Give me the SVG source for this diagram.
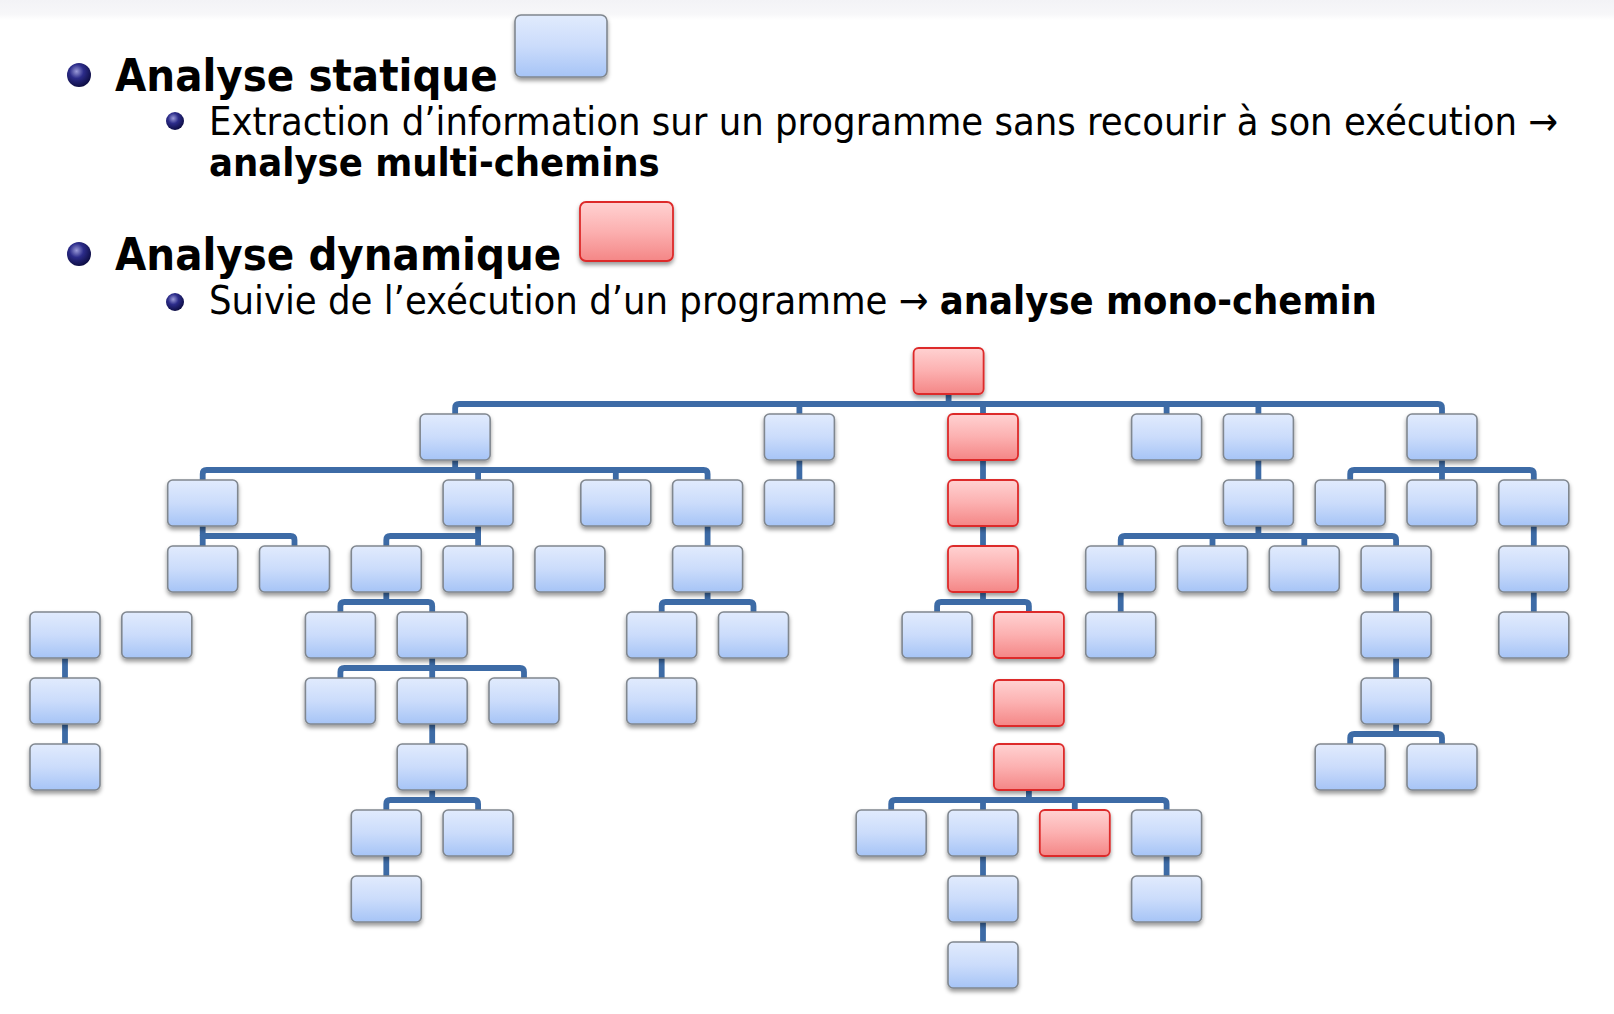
<svg xmlns="http://www.w3.org/2000/svg" width="1614" height="1014" viewBox="0 0 1614 1014">
<defs>
<linearGradient id="gBlue" x1="0" y1="0" x2="0" y2="1">
<stop offset="0" stop-color="#e1ebfd"/><stop offset="0.5" stop-color="#cbdcfb"/><stop offset="1" stop-color="#a6c4f6"/>
</linearGradient>
<linearGradient id="gRed" x1="0" y1="0" x2="0" y2="1">
<stop offset="0" stop-color="#ffd2d2"/><stop offset="0.5" stop-color="#fcb0b0"/><stop offset="1" stop-color="#f48686"/>
</linearGradient>
<linearGradient id="gTop" x1="0" y1="0" x2="0" y2="1">
<stop offset="0" stop-color="#f3f3f6"/><stop offset="0.7" stop-color="#f7f7f9"/><stop offset="1" stop-color="#ffffff"/>
</linearGradient>
<radialGradient id="gBullet" cx="0.4" cy="0.35" r="0.65">
<stop offset="0" stop-color="#9a9ad8"/><stop offset="0.45" stop-color="#2c2c8a"/><stop offset="1" stop-color="#0e0e45"/>
</radialGradient>
<filter id="sh" x="-20%" y="-20%" width="140%" height="160%">
<feDropShadow dx="0" dy="3" stdDeviation="2" flood-color="#000" flood-opacity="0.4"/>
</filter>
<style>
.b rect{fill:url(#gBlue);stroke:#80878f;stroke-width:1.6;filter:url(#sh)}
.r rect{fill:url(#gRed);stroke:#dd2a2a;stroke-width:1.8;filter:url(#sh)}
.n{fill:url(#gBlue);stroke:#80878f;stroke-width:1.6;filter:url(#sh)}
.nr{fill:url(#gRed);stroke:#dd2a2a;stroke-width:1.8;filter:url(#sh)}
.c path{fill:none;stroke:#3d6ba6;stroke-width:5.8;stroke-linejoin:round;stroke-linecap:butt}
.t{font-family:"DejaVu Sans Condensed","DejaVu Sans",sans-serif;fill:#000}
.h{font-size:45px;font-weight:bold}
.s{font-size:39.5px}
.bd{font-weight:bold}
</style>
</defs>
<rect x="0" y="0" width="1614" height="1014" fill="#ffffff"/>
<rect x="0" y="0" width="1614" height="20" fill="url(#gTop)"/>

<g id="text">
<circle cx="79" cy="75" r="12" fill="url(#gBullet)"/>
<text class="t h" x="115" y="91">Analyse statique</text>
<rect id="legend-static" class="n" x="515" y="15" width="92" height="62" rx="6"/>
<circle cx="175" cy="121" r="9" fill="url(#gBullet)"/>
<text class="t s" x="209" y="135">Extraction d’information sur un programme sans recourir à son exécution →</text>
<text class="t s bd" x="209" y="176">analyse multi-chemins</text>
<circle cx="79" cy="254" r="12" fill="url(#gBullet)"/>
<text class="t h" x="115" y="270">Analyse dynamique</text>
<rect id="legend-dynamic" class="nr" x="580" y="202" width="93" height="59" rx="6"/>
<circle cx="175" cy="302" r="9" fill="url(#gBullet)"/>
<text class="t s" x="209" y="314">Suivie de l’exécution d’un programme → <tspan class="bd">analyse mono-chemin</tspan></text>
</g>

<g id="connectors" class="c">
<path d="M948.6 390 V404"/>
<path d="M455.15 418 V408 Q455.15 404 459.15 404 H1438 Q1442 404 1442 408 V418"/>
<path d="M799.4 404 V418 M983 404 V418 M1166.6 404 V418 M1258.4 404 V418"/>
<path d="M455.15 456 V470"/>
<path d="M202.7 484 V474 Q202.7 470 206.7 470 H703.6 Q707.6 470 707.6 474 V484"/>
<path d="M478.1 470 V484 M615.8 470 V484"/>
<path d="M799.4 456 V484"/>
<path d="M983 456 V484"/>
<path d="M1258.4 456 V484"/>
<path d="M1442 456 V470"/>
<path d="M1350.2 484 V474 Q1350.2 470 1354.2 470 H1529.8 Q1533.8 470 1533.8 474 V484"/>
<path d="M1442 470 V484"/>
<path d="M202.7 522 V536"/>
<path d="M202.7 550 V536 H290.5 Q294.5 536 294.5 540 V550"/>
<path d="M478.1 522 V550"/>
<path d="M386.3 550 V540 Q386.3 536 390.3 536 H478.1"/>
<path d="M707.6 522 V550"/>
<path d="M983 522 V550"/>
<path d="M1258.4 522 V536"/>
<path d="M1120.7 550 V540 Q1120.7 536 1124.7 536 H1392.1 Q1396.1 536 1396.1 540 V550"/>
<path d="M1212.5 536 V550 M1304.3 536 V550"/>
<path d="M1533.8 522 V550"/>
<path d="M386.3 588 V602"/>
<path d="M340.4 616 V606 Q340.4 602 344.4 602 H428.2 Q432.2 602 432.2 606 V616"/>
<path d="M707.6 588 V602"/>
<path d="M661.7 616 V606 Q661.7 602 665.7 602 H749.5 Q753.5 602 753.5 606 V616"/>
<path d="M983 588 V602"/>
<path d="M937.1 616 V606 Q937.1 602 941.1 602 H1024.9 Q1028.9 602 1028.9 606 V616"/>
<path d="M1120.7 588 V616"/>
<path d="M1396.1 588 V616"/>
<path d="M1533.8 588 V616"/>
<path d="M65 654 V682"/>
<path d="M432.2 654 V668"/>
<path d="M340.4 682 V672 Q340.4 668 344.4 668 H520 Q524 668 524 672 V682"/>
<path d="M432.2 668 V682"/>
<path d="M661.7 654 V682"/>
<path d="M1396.1 654 V682"/>
<path d="M65 720 V748"/>
<path d="M432.2 720 V748"/>
<path d="M1396.1 720 V734"/>
<path d="M1350.2 748 V738 Q1350.2 734 1354.2 734 H1438 Q1442 734 1442 738 V748"/>
<path d="M432.2 786 V800"/>
<path d="M386.3 814 V804 Q386.3 800 390.3 800 H474.1 Q478.1 800 478.1 804 V814"/>
<path d="M1028.9 786 V800"/>
<path d="M891.2 814 V804 Q891.2 800 895.2 800 H1162.6 Q1166.6 800 1166.6 804 V814"/>
<path d="M983 800 V814 M1074.8 800 V814"/>
<path d="M386.3 852 V880"/>
<path d="M983 852 V880"/>
<path d="M1166.6 852 V880"/>
<path d="M983 918 V946"/>
</g>

<g id="nodes">
<g id="n0" class="r"><rect x="913.6" y="348" width="70" height="46" rx="5"/></g>
<g id="n1a" class="b"><rect x="420.15" y="414" width="70" height="46" rx="5"/></g>
<g id="n1b" class="b"><rect x="764.4" y="414" width="70" height="46" rx="5"/></g>
<g id="n1c" class="r"><rect x="948" y="414" width="70" height="46" rx="5"/></g>
<g id="n1d" class="b"><rect x="1131.6" y="414" width="70" height="46" rx="5"/></g>
<g id="n1e" class="b"><rect x="1223.4" y="414" width="70" height="46" rx="5"/></g>
<g id="n1f" class="b"><rect x="1407" y="414" width="70" height="46" rx="5"/></g>
<g id="n2a" class="b"><rect x="167.7" y="480" width="70" height="46" rx="5"/></g>
<g id="n2b" class="b"><rect x="443.1" y="480" width="70" height="46" rx="5"/></g>
<g id="n2c" class="b"><rect x="580.8" y="480" width="70" height="46" rx="5"/></g>
<g id="n2d" class="b"><rect x="672.6" y="480" width="70" height="46" rx="5"/></g>
<g id="n2e" class="b"><rect x="764.4" y="480" width="70" height="46" rx="5"/></g>
<g id="n2f" class="r"><rect x="948" y="480" width="70" height="46" rx="5"/></g>
<g id="n2g" class="b"><rect x="1223.4" y="480" width="70" height="46" rx="5"/></g>
<g id="n2h" class="b"><rect x="1315.2" y="480" width="70" height="46" rx="5"/></g>
<g id="n2i" class="b"><rect x="1407" y="480" width="70" height="46" rx="5"/></g>
<g id="n2j" class="b"><rect x="1498.8" y="480" width="70" height="46" rx="5"/></g>
<g id="n3a" class="b"><rect x="167.7" y="546" width="70" height="46" rx="5"/></g>
<g id="n3b" class="b"><rect x="259.5" y="546" width="70" height="46" rx="5"/></g>
<g id="n3c" class="b"><rect x="351.3" y="546" width="70" height="46" rx="5"/></g>
<g id="n3d" class="b"><rect x="443.1" y="546" width="70" height="46" rx="5"/></g>
<g id="n3e" class="b"><rect x="534.9" y="546" width="70" height="46" rx="5"/></g>
<g id="n3f" class="b"><rect x="672.6" y="546" width="70" height="46" rx="5"/></g>
<g id="n3g" class="r"><rect x="948" y="546" width="70" height="46" rx="5"/></g>
<g id="n3h" class="b"><rect x="1085.7" y="546" width="70" height="46" rx="5"/></g>
<g id="n3i" class="b"><rect x="1177.5" y="546" width="70" height="46" rx="5"/></g>
<g id="n3j" class="b"><rect x="1269.3" y="546" width="70" height="46" rx="5"/></g>
<g id="n3k" class="b"><rect x="1361.1" y="546" width="70" height="46" rx="5"/></g>
<g id="n3l" class="b"><rect x="1498.8" y="546" width="70" height="46" rx="5"/></g>
<g id="n4a" class="b"><rect x="30" y="612" width="70" height="46" rx="5"/></g>
<g id="n4b" class="b"><rect x="121.8" y="612" width="70" height="46" rx="5"/></g>
<g id="n4c" class="b"><rect x="305.4" y="612" width="70" height="46" rx="5"/></g>
<g id="n4d" class="b"><rect x="397.2" y="612" width="70" height="46" rx="5"/></g>
<g id="n4e" class="b"><rect x="626.7" y="612" width="70" height="46" rx="5"/></g>
<g id="n4f" class="b"><rect x="718.5" y="612" width="70" height="46" rx="5"/></g>
<g id="n4g" class="b"><rect x="902.1" y="612" width="70" height="46" rx="5"/></g>
<g id="n4h" class="r"><rect x="993.9" y="612" width="70" height="46" rx="5"/></g>
<g id="n4i" class="b"><rect x="1085.7" y="612" width="70" height="46" rx="5"/></g>
<g id="n4j" class="b"><rect x="1361.1" y="612" width="70" height="46" rx="5"/></g>
<g id="n4k" class="b"><rect x="1498.8" y="612" width="70" height="46" rx="5"/></g>
<g id="n5a" class="b"><rect x="30" y="678" width="70" height="46" rx="5"/></g>
<g id="n5b" class="b"><rect x="305.4" y="678" width="70" height="46" rx="5"/></g>
<g id="n5c" class="b"><rect x="397.2" y="678" width="70" height="46" rx="5"/></g>
<g id="n5d" class="b"><rect x="489" y="678" width="70" height="46" rx="5"/></g>
<g id="n5e" class="b"><rect x="626.7" y="678" width="70" height="46" rx="5"/></g>
<g id="n5f" class="r"><rect x="993.9" y="680" width="70" height="46" rx="5"/></g>
<g id="n5g" class="b"><rect x="1361.1" y="678" width="70" height="46" rx="5"/></g>
<g id="n6a" class="b"><rect x="30" y="744" width="70" height="46" rx="5"/></g>
<g id="n6b" class="b"><rect x="397.2" y="744" width="70" height="46" rx="5"/></g>
<g id="n6c" class="r"><rect x="993.9" y="744" width="70" height="46" rx="5"/></g>
<g id="n6d" class="b"><rect x="1315.2" y="744" width="70" height="46" rx="5"/></g>
<g id="n6e" class="b"><rect x="1407" y="744" width="70" height="46" rx="5"/></g>
<g id="n7a" class="b"><rect x="351.3" y="810" width="70" height="46" rx="5"/></g>
<g id="n7b" class="b"><rect x="443.1" y="810" width="70" height="46" rx="5"/></g>
<g id="n7c" class="b"><rect x="856.2" y="810" width="70" height="46" rx="5"/></g>
<g id="n7d" class="b"><rect x="948" y="810" width="70" height="46" rx="5"/></g>
<g id="n7e" class="r"><rect x="1039.8" y="810" width="70" height="46" rx="5"/></g>
<g id="n7f" class="b"><rect x="1131.6" y="810" width="70" height="46" rx="5"/></g>
<g id="n8a" class="b"><rect x="351.3" y="876" width="70" height="46" rx="5"/></g>
<g id="n8b" class="b"><rect x="948" y="876" width="70" height="46" rx="5"/></g>
<g id="n8c" class="b"><rect x="1131.6" y="876" width="70" height="46" rx="5"/></g>
<g id="n9a" class="b"><rect x="948" y="942" width="70" height="46" rx="5"/></g>
</g>
</svg>
